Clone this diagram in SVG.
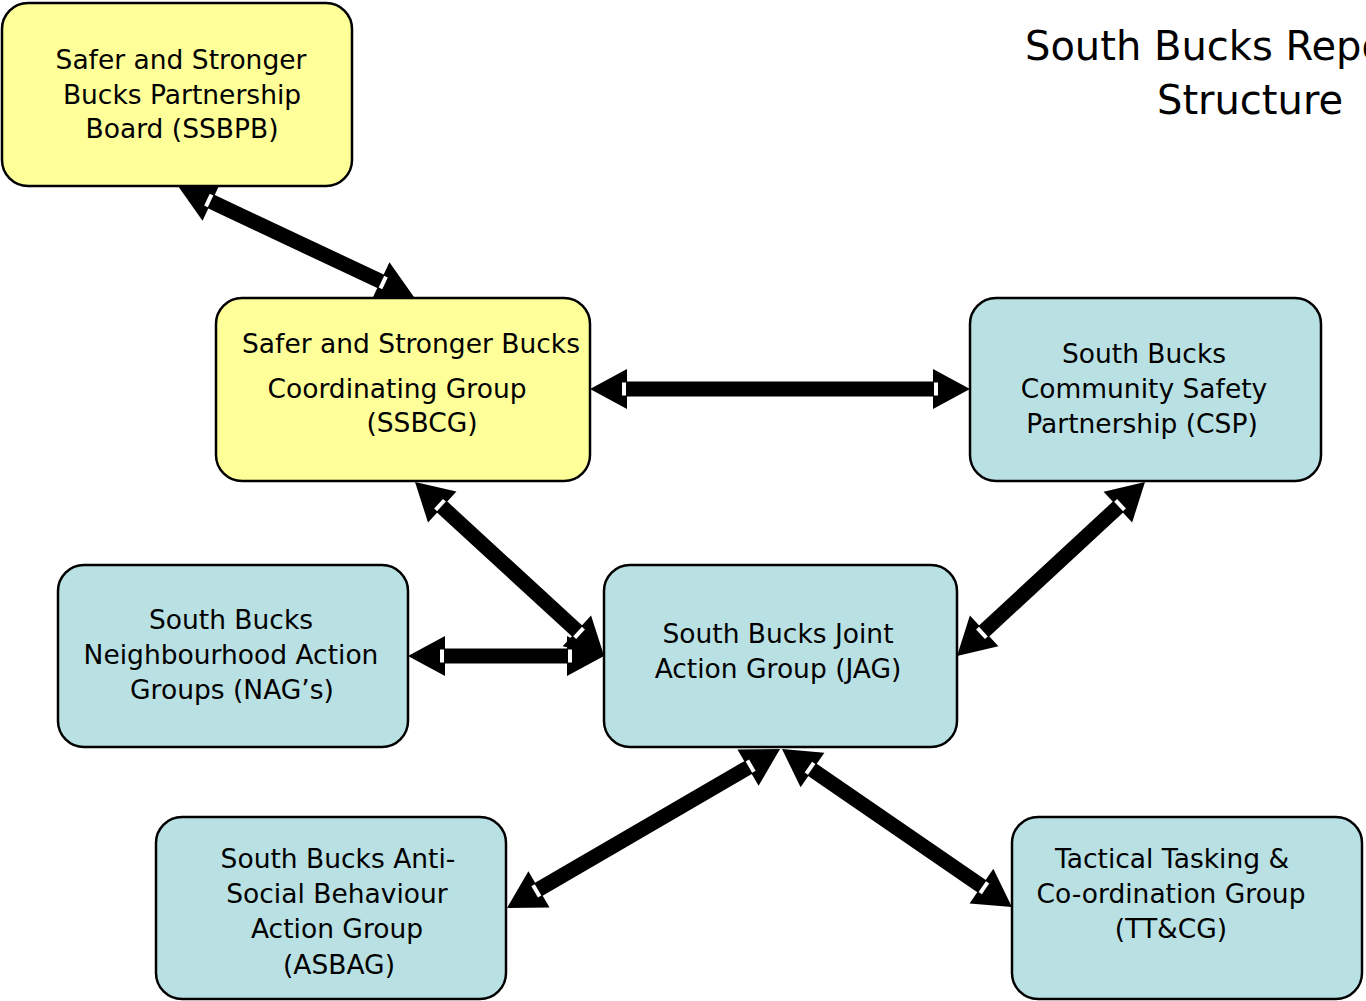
<svg xmlns="http://www.w3.org/2000/svg" width="1366" height="1001" viewBox="0 0 1366 1001">
<style>
.box{stroke:#000;stroke-width:2.5}
.y{fill:#FFFF99}
.b{fill:#B9E0E3}
.t{font-family:"DejaVu Sans",sans-serif;font-size:26.5px;fill:#000;text-anchor:middle}
.title{font-family:"DejaVu Sans",sans-serif;font-size:40px;fill:#000}
.k{fill:#000}
.w{fill:#fff}
</style>
<rect width="1366" height="1001" fill="#fff"/>
<text class="title" x="1025" y="60">South Bucks Repo</text>
<text class="title" x="1157" y="114">Structure</text>

<g id="connectors">
  <g transform="translate(178,186) rotate(25.2)">
    <rect class="k" x="36" y="-7.5" width="189" height="15"/>
    <polygon class="k" points="0,0 37,-21 37,21"/>
    <polygon class="k" points="260.8,0 223.8,-21 223.8,21"/>
    <rect class="w" x="32" y="-6.5" width="4" height="13"/>
    <rect class="w" x="224.8" y="-6.5" width="4" height="13"/>
  </g>
  <g transform="translate(590,389)">
    <rect class="k" x="36" y="-7.5" width="308" height="15"/>
    <polygon class="k" points="0,0 37,-20 37,20"/>
    <polygon class="k" points="380,0 343,-20 343,20"/>
    <rect class="w" x="32" y="-6.5" width="4" height="13"/>
    <rect class="w" x="344" y="-6.5" width="4" height="13"/>
  </g>
  <g transform="translate(415,482) rotate(42.6)">
    <rect class="k" x="36" y="-7.5" width="185" height="15"/>
    <polygon class="k" points="0,0 37,-21 37,21"/>
    <polygon class="k" points="256.9,0 219.9,-21 219.9,21"/>
    <rect class="w" x="32" y="-6.5" width="4" height="13"/>
    <rect class="w" x="220.9" y="-6.5" width="4" height="13"/>
  </g>
  <g transform="translate(408,656)">
    <rect class="k" x="36" y="-7.5" width="124" height="15"/>
    <polygon class="k" points="0,0 37,-20 37,20"/>
    <polygon class="k" points="196,0 159,-20 159,20"/>
    <rect class="w" x="32" y="-6.5" width="4" height="13"/>
    <rect class="w" x="160" y="-6.5" width="4" height="13"/>
  </g>
  <g transform="translate(1145,482) rotate(137.2)">
    <rect class="k" x="36" y="-7.5" width="184" height="15"/>
    <polygon class="k" points="0,0 37,-21 37,21"/>
    <polygon class="k" points="256.2,0 219.2,-21 219.2,21"/>
    <rect class="w" x="32" y="-6.5" width="4" height="13"/>
    <rect class="w" x="220.2" y="-6.5" width="4" height="13"/>
  </g>
  <g transform="translate(780,749) rotate(149.8)">
    <rect class="k" x="36" y="-7.5" width="244" height="15"/>
    <polygon class="k" points="0,0 37,-21 37,21"/>
    <polygon class="k" points="315.9,0 278.9,-21 278.9,21"/>
    <rect class="w" x="32" y="-6.5" width="4" height="13"/>
    <rect class="w" x="279.9" y="-6.5" width="4" height="13"/>
  </g>
  <g transform="translate(782,749) rotate(34.5)">
    <rect class="k" x="36" y="-7.5" width="207" height="15"/>
    <polygon class="k" points="0,0 37,-21 37,21"/>
    <polygon class="k" points="279,0 242,-21 242,21"/>
    <rect class="w" x="32" y="-6.5" width="4" height="13"/>
    <rect class="w" x="243" y="-6.5" width="4" height="13"/>
  </g>
</g>

<g id="ssbpb">
  <rect class="box y" x="2" y="3" width="350" height="183" rx="26"/>
  <text class="t" x="181" y="69">Safer and Stronger</text>
  <text class="t" x="182" y="104">Bucks Partnership</text>
  <text class="t" x="182" y="138">Board (SSBPB)</text>
</g>
<g id="ssbcg">
  <rect class="box y" x="216" y="298" width="374" height="183" rx="26"/>
  <text class="t" x="411" y="353">Safer and Stronger Bucks</text>
  <text class="t" x="397" y="398">Coordinating Group</text>
  <text class="t" x="422" y="432">(SSBCG)</text>
</g>
<g id="csp">
  <rect class="box b" x="970" y="298" width="351" height="183" rx="26"/>
  <text class="t" x="1144" y="363">South Bucks</text>
  <text class="t" x="1144" y="398">Community Safety</text>
  <text class="t" x="1142" y="433">Partnership (CSP)</text>
</g>
<g id="nag">
  <rect class="box b" x="58" y="565" width="350" height="182" rx="26"/>
  <text class="t" x="231" y="629">South Bucks</text>
  <text class="t" x="231" y="664">Neighbourhood Action</text>
  <text class="t" x="232" y="699">Groups (NAG’s)</text>
</g>
<g id="jag">
  <rect class="box b" x="604" y="565" width="353" height="182" rx="26"/>
  <text class="t" x="778" y="643">South Bucks Joint</text>
  <text class="t" x="778" y="678">Action Group (JAG)</text>
</g>
<g id="asbag">
  <rect class="box b" x="156" y="817" width="350" height="182" rx="26"/>
  <text class="t" x="338" y="868">South Bucks Anti-</text>
  <text class="t" x="337" y="903">Social Behaviour</text>
  <text class="t" x="337" y="938">Action Group</text>
  <text class="t" x="339" y="974">(ASBAG)</text>
</g>
<g id="ttcg">
  <rect class="box b" x="1012" y="817" width="350" height="182" rx="26"/>
  <text class="t" x="1172" y="868">Tactical Tasking &amp;</text>
  <text class="t" x="1171" y="903">Co-ordination Group</text>
  <text class="t" x="1171" y="938">(TT&amp;CG)</text>
</g>
</svg>
